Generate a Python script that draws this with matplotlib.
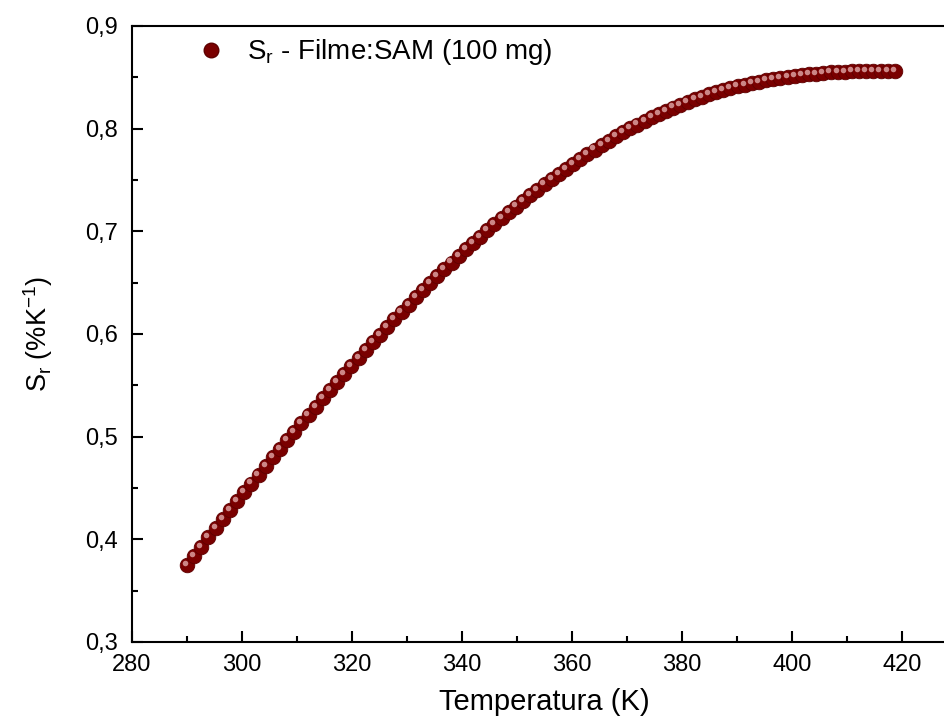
import matplotlib
matplotlib.use("Agg")
import matplotlib.pyplot as plt
from matplotlib.transforms import offset_copy
from matplotlib.ticker import MultipleLocator, FuncFormatter

plt.rcParams['font.family'] = ['Liberation Sans', 'DejaVu Sans']
plt.rcParams['mathtext.fontset'] = 'custom'
plt.rcParams['mathtext.rm'] = 'Liberation Sans'
plt.rcParams['mathtext.it'] = 'Liberation Sans'

# Relative sensitivity of the film vs. temperature
temperature = [
    290.0, 291.3, 292.6, 293.9, 295.2, 296.5, 297.8, 299.1, 300.4, 301.7,
    303.0, 304.3, 305.6, 306.9, 308.2, 309.5, 310.8, 312.1, 313.4, 314.7,
    316.0, 317.3, 318.6, 319.9, 321.2, 322.5, 323.8, 325.1, 326.4, 327.7,
    329.0, 330.3, 331.6, 332.9, 334.2, 335.5, 336.8, 338.1, 339.4, 340.7,
    342.0, 343.3, 344.6, 345.9, 347.2, 348.5, 349.8, 351.1, 352.4, 353.7,
    355.0, 356.3, 357.6, 358.9, 360.2, 361.5, 362.8, 364.1, 365.4, 366.7,
    368.0, 369.3, 370.6, 371.9, 373.2, 374.5, 375.8, 377.1, 378.4, 379.7,
    381.0, 382.3, 383.6, 384.9, 386.2, 387.5, 388.8, 390.1, 391.4, 392.7,
    394.0, 395.3, 396.6, 397.9, 399.2, 400.5, 401.8, 403.1, 404.4, 405.7,
    407.0, 408.3, 409.6, 410.9, 412.2, 413.5, 414.8, 416.1, 417.4, 418.7,
]
sr = [
    0.3750, 0.3840, 0.3929, 0.4018, 0.4106, 0.4194, 0.4282, 0.4370, 0.4457, 0.4543,
    0.4629, 0.4714, 0.4799, 0.4883, 0.4966, 0.5048, 0.5130, 0.5212, 0.5292, 0.5373,
    0.5453, 0.5532, 0.5611, 0.5689, 0.5767, 0.5843, 0.5919, 0.5994, 0.6069, 0.6142,
    0.6215, 0.6286, 0.6357, 0.6427, 0.6496, 0.6563, 0.6630, 0.6696, 0.6760, 0.6824,
    0.6887, 0.6948, 0.7009, 0.7069, 0.7127, 0.7185, 0.7241, 0.7297, 0.7351, 0.7405,
    0.7458, 0.7509, 0.7560, 0.7609, 0.7657, 0.7705, 0.7751, 0.7796, 0.7840, 0.7882,
    0.7924, 0.7964, 0.8003, 0.8040, 0.8076, 0.8111, 0.8144, 0.8175, 0.8205, 0.8234,
    0.8261, 0.8286, 0.8310, 0.8333, 0.8355, 0.8375, 0.8394, 0.8411, 0.8428, 0.8443,
    0.8457, 0.8470, 0.8483, 0.8494, 0.8504, 0.8513, 0.8522, 0.8529, 0.8536, 0.8542,
    0.8547, 0.8551, 0.8554, 0.8557, 0.8559, 0.8561, 0.8562, 0.8563, 0.8564, 0.8565,
]
series_label = r'S$_\mathregular{r}$ - Filme:SAM (100 mg)'
x_label = 'Temperatura (K)'
y_label = r'S$_\mathregular{r}$ (%K$^\mathregular{-1}$)'

fig = plt.figure(figsize=(9.45, 7.25), dpi=100)
ax = fig.add_axes([0.1397, 0.1145, 0.873, 0.8497])

marker_color = '#7a0000'
shine_color = '#e8b4b4'

# ball-like markers: dark body plus a small highlight to the upper left
ax.plot(temperature, sr, linestyle='none', marker='o', markersize=10.5,
        markerfacecolor=marker_color, markeredgecolor='#5e0000',
        markeredgewidth=0.6, zorder=3)
shine = offset_copy(ax.transData, fig=fig, x=-1.5, y=1.5, units='points')
ax.plot(temperature, sr, linestyle='none', marker='o', markersize=4.0,
        markerfacecolor=shine_color, markeredgecolor='none', alpha=0.75,
        transform=shine, zorder=4)

ax.set_xlim(280, 430)
ax.set_ylim(0.3, 0.9)
ax.xaxis.set_major_locator(MultipleLocator(20))
ax.xaxis.set_minor_locator(MultipleLocator(10))
ax.yaxis.set_major_locator(MultipleLocator(0.1))
ax.yaxis.set_minor_locator(MultipleLocator(0.05))
ax.yaxis.set_major_formatter(FuncFormatter(lambda v, p: f'{v:.1f}'.replace('.', ',')))

ax.tick_params(which='both', direction='in', top=False, right=False,
               labelsize=17, width=1.5)
ax.tick_params(axis='x', pad=9)
ax.tick_params(axis='y', pad=10)
ax.tick_params(which='major', length=8)
ax.tick_params(which='minor', length=4.5)
for side in ['left', 'bottom', 'top', 'right']:
    ax.spines[side].set_linewidth(1.5)

ax.set_xlabel(x_label, fontsize=21, labelpad=8)
ax.set_ylabel(y_label, fontsize=19.5, labelpad=22)

# legend entry
h, = ax.plot([], [], linestyle='none', marker='o', markersize=10.5,
             markerfacecolor=marker_color, markeredgecolor='#5e0000')
ax.legend([h], [series_label], loc='upper left', frameon=False,
          fontsize=20, bbox_to_anchor=(0.032, 1.022), handletextpad=0.3)

fig.savefig('out.png', dpi=100, facecolor='white')
